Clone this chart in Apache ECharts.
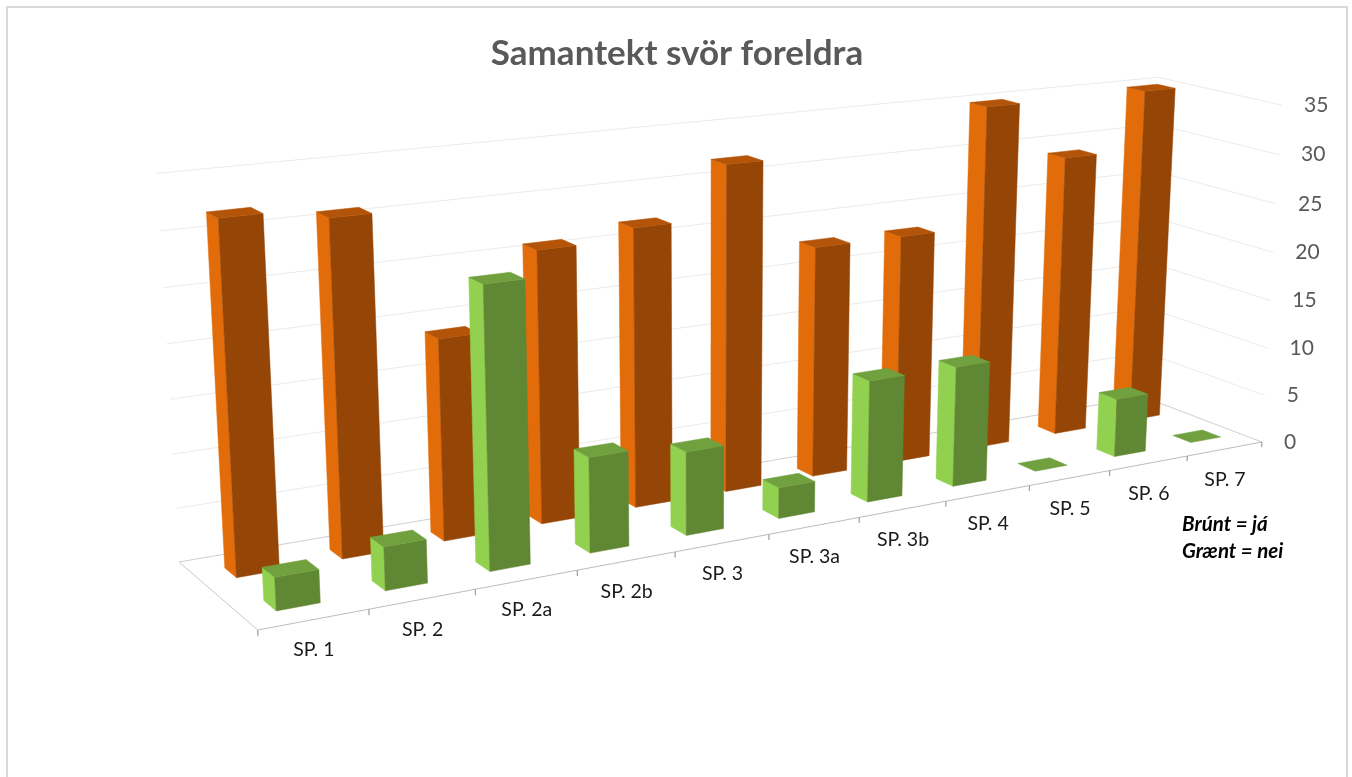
<!DOCTYPE html>
<html>
<head>
<meta charset="utf-8">
<title>Samantekt svör foreldra</title>
<script src="https://cdn.jsdelivr.net/npm/echarts@6/dist/echarts.min.js"></script>
<style>
  html, body { margin: 0; padding: 0; background: #fff; }
  #main { width: 1352px; height: 777px; }
</style>
</head>
<body>
<div id="main"></div>
<script>
var categories = ['SP. 1', 'SP. 2', 'SP. 2a', 'SP. 2b', 'SP. 3', 'SP. 3a', 'SP. 3b', 'SP. 4', 'SP. 5', 'SP. 6', 'SP. 7'];
var jaValues = [32, 31, 19, 26, 27, 32, 23, 23, 35, 29, 35];   // brúnt
var neiValues = [3, 4, 26, 9, 8, 3, 12, 12, 0, 6, 0];          // grænt
var valueTicks = [0, 5, 10, 15, 20, 25, 30, 35];

var GRID_W = 1100, GRID_H = 350;   // hidden cartesian, 1 category = 100px, 1 value = 10px
var FONT = 'Lato, "Open Sans", sans-serif';

// perspective of the box: u = categories, v = depth 0..1, h = value
function project(u, v, h) {
  var w = 1 + 0.02223 * u + 0.0713 * v - 0.00123 * h;
  return [
    (257.7 + 119.35 * u - 65.94 * v - 0.866 * h) / w,
    (630 - 7.26 * u - 27.93 * v - 12.11 * h) / w
  ];
}

// value -> u,h through the library's axes
function toBox(api, cat, val) {
  var p = api.coord([cat, val]);
  return { u: p[0] / (GRID_W / categories.length), h: (GRID_H - p[1]) / (GRID_H / 35) };
}

function poly(points, color) {
  return { type: 'polygon', shape: { points: points }, style: { fill: color, stroke: color, lineWidth: 0.5 } };
}
function line(a, b, color, width) {
  return { type: 'line', shape: { x1: a[0], y1: a[1], x2: b[0], y2: b[1] }, style: { stroke: color, lineWidth: width || 1 } };
}

// skew: small per-category drift of the row, the front row runs a bit off the floor lines
function barRenderer(depth, skew, colors) {
  return function (params, api) {
    var b = toBox(api, api.value(0), api.value(1));
    var c = b.u + skew * api.value(0);
    var u0 = c - 0.2, u1 = c + 0.2, v0 = depth - 0.075, v1 = depth + 0.075, h = b.h;
    var kids = [];
    if (h > 0) {
      kids.push(poly([project(u0, v0, 0), project(u0, v1, 0), project(u0, v1, h), project(u0, v0, h)], colors.side));
      kids.push(poly([project(u0, v0, 0), project(u1, v0, 0), project(u1, v0, h), project(u0, v0, h)], colors.front));
    }
    kids.push(poly([project(u0, v0, h), project(u1, v0, h), project(u1, v1, h), project(u0, v1, h)], colors.top));
    return { type: 'group', children: kids };
  };
}

function gridRenderer(params, api) {
  var h = toBox(api, 0, api.value(0)).h;
  var n = categories.length;
  var c = h === 0 ? '#cfcfcf' : '#ebebeb';
  return {
    type: 'group',
    children: [
      line(project(0, 1, h), project(n, 1, h), c),
      line(project(n, 1, h), project(n, 0, h), c)
    ]
  };
}

function floorRenderer(params, api) {
  var n = categories.length, kids = [
    line(project(0, 0, 0), project(0, 1, 0), '#c8c8c8'),
    line(project(0, 0, 0), project(n, 0, 0), '#bdbdbd')
  ];
  for (var i = 0; i <= n; i++) {
    kids.push(line(project(i, 0, 0), project(i, 0, -0.55), '#8c8c8c'));
  }
  return { type: 'group', children: kids };
}

function catLabelRenderer(params, api) {
  var b = toBox(api, api.value(0), 0);
  var p = project(b.u, 0, 0);
  return {
    type: 'text',
    style: { text: categories[api.value(0)], x: p[0], y: p[1] + 30.5, align: 'center', verticalAlign: 'middle', font: '19.5px ' + FONT, fill: '#1a1a1a' }
  };
}

function valueLabelRenderer(params, api) {
  var h = toBox(api, 0, api.value(0)).h;
  var p = project(categories.length, 0, h);
  return {
    type: 'text',
    style: { text: String(api.value(0)), x: p[0] + 22, y: p[1], align: 'left', verticalAlign: 'middle', font: '21px ' + FONT, fill: '#595959' }
  };
}

var chart = echarts.init(document.getElementById('main'));

var option = {
  animation: false,
  backgroundColor: '#fff',
  title: {
    text: 'Samantekt svör foreldra',
    left: 672,
    top: 31,
    textAlign: 'center',
    textStyle: { fontFamily: FONT, fontSize: 35, fontWeight: 'bold', color: '#595959' }
  },
  grid: { left: 0, top: 0, width: GRID_W, height: GRID_H, show: false },
  xAxis: { type: 'category', data: categories, show: false },
  yAxis: { type: 'value', min: 0, max: 35, interval: 5, show: false },
  graphic: [
    { type: 'rect', silent: true, z: -1, shape: { x: 7, y: 7, width: 1340, height: 800 }, style: { fill: 'none', stroke: '#d9d9d9', lineWidth: 2 } },
    { type: 'text', left: 1182, top: 514, style: { text: 'Brúnt = já', font: 'italic bold 20.5px ' + FONT, fill: '#000' } },
    { type: 'text', left: 1182, top: 541, style: { text: 'Grænt = nei', font: 'italic bold 20.5px ' + FONT, fill: '#000' } }
  ],
  series: [
    { type: 'custom', name: 'grid', renderItem: gridRenderer, data: valueTicks.map(function (t) { return [t]; }), encode: { y: 0 }, z: 1 },
    { type: 'custom', name: 'floor', renderItem: floorRenderer, data: [[0]], encode: { y: 0 }, z: 1 },
    { type: 'custom', name: 'já', renderItem: barRenderer(0.745, 0, { side: '#E36C0A', front: '#954505', top: '#B45408' }),
      data: jaValues.map(function (v, i) { return [i, v]; }), encode: { x: 0, y: 1 }, z: 2 },
    { type: 'custom', name: 'nei', renderItem: barRenderer(0.255, 0.004, { side: '#92D050', front: '#608733', top: '#70A13E' }),
      data: neiValues.map(function (v, i) { return [i, v]; }), encode: { x: 0, y: 1 }, z: 3 },
    { type: 'custom', name: 'cats', renderItem: catLabelRenderer, data: categories.map(function (c, i) { return [i]; }), encode: { x: 0 }, z: 4 },
    { type: 'custom', name: 'ticks', renderItem: valueLabelRenderer, data: valueTicks.map(function (t) { return [t]; }), encode: { y: 0 }, z: 4 }
  ]
};

chart.setOption(option);
</script>
</body>
</html>
